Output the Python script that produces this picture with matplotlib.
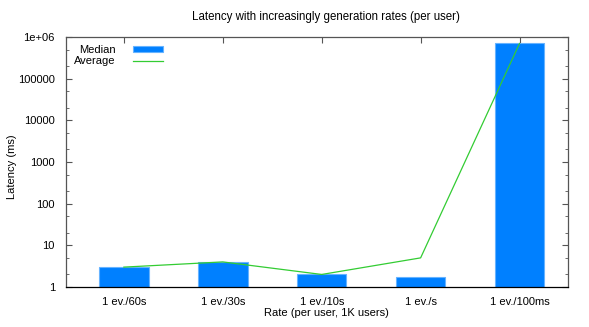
import numpy as np
import matplotlib
matplotlib.use('Agg')
import matplotlib.pyplot as plt
from matplotlib.ticker import LogLocator, NullFormatter

plt.rcParams['font.family'] = ['Liberation Sans', 'DejaVu Sans']
plt.rcParams['font.size'] = 8

## DATA
rates = ['1 ev./60s', '1 ev./30s', '1 ev./10s', '1 ev./s', '1 ev./100ms']
median = [3.0, 4.0, 2.0, 1.7, 7.0e5]
average = [3.0, 4.0, 2.0, 5.0, 7.0e5]
ytick_vals = [1, 10, 100, 1000, 10000, 100000, 1000000]
ytick_labels = ['1', '10', '100', '1000', '10000', '100000', '1e+06']

fig = plt.figure(figsize=(5.89, 3.27), dpi=100)
ax = fig.add_axes([66/589, 1 - 287/327, (568 - 66)/589, (287 - 37)/327])

x = np.arange(len(rates))
bars = ax.bar(x, median, width=0.5, bottom=0, color='#0080ff', edgecolor='#66b3ff',
              linewidth=0.8, label='Median', zorder=2)
line, = ax.plot(x, average, color='#33cc33', lw=0.9, label='Average', zorder=3)

ax.set_yscale('log')
ax.set_ylim(1, 1e6)
ax.set_xlim(-0.585, 4.49)
ax.set_yticks(ytick_vals)
ax.set_yticklabels(ytick_labels)
ax.yaxis.set_minor_locator(LogLocator(base=10, subs=[2, 5]))
ax.yaxis.set_minor_formatter(NullFormatter())
ax.set_xticks(x)
ax.set_xticklabels(rates)

ax.tick_params(axis='both', which='both', direction='in', top=True, right=True,
               colors='#555555', labelcolor='black')
ax.tick_params(axis='y', which='major', length=4, pad=8)
ax.tick_params(axis='y', which='minor', length=2)
ax.tick_params(axis='x', which='major', length=4, pad=7)
for s in ax.spines.values():
    s.set_color('#555555')
    s.set_linewidth(0.9)
ax.spines['bottom'].set_color('black')

# gnuplot style key: text right aligned, sample on the right
leg = ax.legend([bars, line], ['Median', 'Average'], loc='upper left',
                bbox_to_anchor=(0.0, 1.0), frameon=False,
                markerfirst=False, handlelength=2.7, handleheight=0.5,
                labelspacing=0.15, borderaxespad=0.3, handletextpad=1.6)
for col in leg._legend_handle_box.get_children():
    col.align = 'right'

fig.text(326/589, 1 - 17/327, 'Latency with increasingly generation rates (per user)',
         ha='center', va='center', fontsize=8.3)
fig.text(326/589, 1 - 313/327, 'Rate (per user, 1K users)', ha='center', va='center', fontsize=8)
fig.text(12/589, 1 - 167/327, 'Latency (ms)', ha='center', va='center', rotation=90, fontsize=8)

fig.savefig('out.png', dpi=100)
